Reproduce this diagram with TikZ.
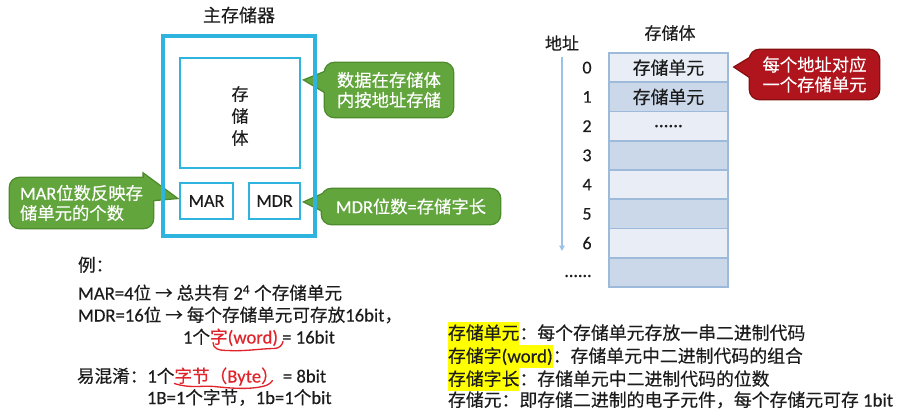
\documentclass[tikz,border=0pt]{standalone}
\usepackage{fontspec}
\setmainfont{Noto Sans CJK SC}[FakeBold=0.35]
\newfontfamily\latinfont{Carlito}[Scale=1.06, FakeBold=0.35]
\newcommand\lt[1]{{\latinfont #1}}
\usetikzlibrary{arrows.meta,calc,backgrounds}
\newcommand\PX{0.75pt}
\definecolor{boxcyan}{HTML}{2FB4DF}
\definecolor{calgreen}{HTML}{62A53D}
\definecolor{calgreenline}{HTML}{4C8A2C}
\definecolor{calred}{HTML}{B0141C}
\definecolor{calredline}{HTML}{85100F}
\definecolor{celllight}{HTML}{E9EEF6}
\definecolor{celldark}{HTML}{CAD8EA}
\definecolor{cellline}{HTML}{9EBADB}
\definecolor{addrarrow}{HTML}{9CC3E5}
\definecolor{txt}{HTML}{1C1C1C}
\definecolor{markred}{HTML}{E0242B}
\definecolor{hly}{HTML}{FFFF00}
% yellow marker behind a term
\newcommand\hlt[1]{{\setlength\fboxsep{0pt}\colorbox{hly}{\rule[-4.2pt]{0pt}{17.3pt}#1}}}
% callout body: rounded box plus pointer, outlined as one shape
% #1 node, #2 tip, #3/#4 points where the pointer meets the box, #5 fill, #6 outline
\newcommand\tagshape[6]{%
  \begin{scope}[on background layer]
    \path[draw=#6, line width=2pt, rounded corners=7pt] (#1.north west) rectangle (#1.south east);
    \path[draw=#6, line width=2pt, line join=miter] ($(#2)!1.4!(#3)$) -- (#2) -- ($(#2)!1.4!(#4)$) -- cycle;
    \path[fill=#5, rounded corners=7pt] (#1.north west) rectangle (#1.south east);
    \path[fill=#5] ($(#2)!1.4!(#3)$) -- (#2) -- ($(#2)!1.4!(#4)$) -- cycle;
  \end{scope}}

\begin{document}
\begin{tikzpicture}[x=0.75pt,y=-0.75pt,
  every node/.style={inner sep=0pt, outer sep=0pt},
  body/.style={font=\fontsize{13.2}{15}\selectfont, text=txt, anchor=base west},
  terms/.style={font=\fontsize{13.4}{15}\selectfont, text=txt, anchor=base west},
  label/.style={font=\fontsize{12.75}{15}\selectfont, text=txt},
  num/.style={font=\latinfont\fontsize{12.75}{15}\selectfont, text=txt},
  cyanbox/.style={draw=boxcyan, line width=2.2pt},
  tag/.style={text=white, font=\fontsize{13}{15}\selectfont},
  cell/.style={draw=cellline, line width=1.2pt, minimum width=119*\PX,
    minimum height=29.25*\PX, font=\fontsize{13.4}{15}\selectfont, text=txt},
  wave/.style={draw=markred, line width=1pt, line cap=round},
]
\begin{scope}[on background layer]
  \fill[white] (0,0) rectangle (924,417);
\end{scope}
\useasboundingbox (0,0) rectangle (924,417);

% ---- main memory block ----
\node[label, font=\fontsize{13.5}{15}\selectfont] (title) at (239,15) {主存储器};
\node[cyanbox, line width=2.5pt, minimum width=152*\PX, minimum height=200*\PX] (mem) at (239,136) {};
\node[cyanbox, minimum width=120*\PX, minimum height=110*\PX] (store) at (240,113) {};
\node[label, align=center, font=\fontsize{12.75}{16.5}\selectfont] (storetext) at (240,116) {存\\储\\体};
\node[cyanbox, num, minimum width=53*\PX, minimum height=36*\PX] (mar) at (206.5,201) {MAR};
\node[cyanbox, num, minimum width=51*\PX, minimum height=36*\PX] (mdr) at (274.5,201) {MDR};

% ---- callouts ----
\node[tag, minimum width=128*\PX, minimum height=54*\PX, align=center] (tagA) at (389,90) {数据在存储体\\内按地址存储};
\coordinate (tipA) at ($(store.east)+(5,-33)$);
\coordinate (tagAa) at ($(tagA.west)+(0,-18)$);
\coordinate (tagAb) at ($(tagA.west)+(0,2)$);
\tagshape{tagA}{tipA}{tagAa}{tagAb}{calgreen}{calgreenline}

\node[tag, minimum width=143*\PX, minimum height=50*\PX, align=left] (tagB) at (81.5,203) {\lt{MAR}位数反映存\\储单元的个数};
\coordinate (tipB) at ($(mar.west)+(-4,-3)$);
\coordinate (tagBa) at ($(tagB.east)+(0,-22)$);
\coordinate (tagBb) at ($(tagB.east)+(0,-3)$);
\tagshape{tagB}{tipB}{tagBa}{tagBb}{calgreen}{calgreenline}

\node[tag, minimum width=178*\PX, minimum height=35*\PX] (tagC) at (411,206.5) {\lt{MDR}位数\lt{=}存储字长};
\coordinate (tipC) at ($(mdr.east)+(5,1)$);
\coordinate (tagCa) at ($(tagC.west)+(0,-12)$);
\coordinate (tagCb) at ($(tagC.west)+(0,4)$);
\tagshape{tagC}{tipC}{tagCa}{tagCb}{calgreen}{calgreenline}

% ---- storage bank with addresses ----
\node[label] (bank) at (670,33) {存储体};
\node[label] (addrlabel) at (562,43) {地址};
\foreach \i/\t/\c in {0/存储单元/celllight, 1/存储单元/celldark, 2/\lt{......}/celllight,
                     3//celldark, 4//celllight, 5//celldark, 6//celllight, 7//celldark}
  \node[cell, fill=\c] (cell\i) at (668.5,{67.625+29.25*\i}) {\t};
\foreach \i in {0,...,6}
  \node[num] (addr\i) at (587,{67.625+29.25*\i}) {\i};
\node[num] (addrmore) at (578,276) {......};
\coordinate (arrowtop) at ($(addrlabel.south)+(0,6)$);
\coordinate (arrowend) at (562,251);
\draw[addrarrow, line width=1.2pt, -{Triangle[length=4pt,width=4pt]}] (arrowtop) -- (arrowend);

\node[tag, minimum width=129*\PX, minimum height=49*\PX, align=center] (tagD) at (814.5,74.5) {每个地址对应\\一个存储单元};
\coordinate (tipD) at ($(cell0.east)+(7,-0.6)$);
\coordinate (tagDa) at ($(tagD.west)+(0,-16.5)$);
\coordinate (tagDb) at ($(tagD.west)+(0,2.5)$);
\tagshape{tagD}{tipD}{tagDa}{tagDb}{calred}{calredline}

% ---- worked example ----
\node[body] (ex) at (78,271.5) {例：};
\node[body] (ex1) at (78,299.5) {\lt{MAR=4}位 → 总共有 \lt{2\textsuperscript{4}} 个存储单元};
\node[body] (ex2) at (78,321.5) {\lt{MDR=16}位 → 每个存储单元可存放\lt{16bit}，};
\node[body] (w1) at (183,343.5) {\lt{1}个};
\node[body, text=markred] (w2) at (w1.base east) {字\lt{(word)}};
\node[body] (w3) at (w2.base east) {\lt{\ = 16bit}};
\draw[wave] ($(w2.base west)+(3,-1)$) .. controls ($(w2.base west)+(3,5)$) and ($(w2.base west)+(8,7)$) ..
  ($(w2.base west)+(18,7)$) .. controls ($(w2.base west)+(35,8)$) and ($(w2.base west)+(52,5)$) ..
  ($(w2.base west)+(64,5)$) .. controls ($(w2.base west)+(69,5)$) and ($(w2.base west)+(72,2)$) ..
  ($(w2.base west)+(73,-2)$);

\node[body] (c1) at (77,382.5) {易混淆：\lt{1}个};
\node[body, text=markred] (c2) at (c1.base east) {字节（\lt{Byte}）};
\node[body] (c3) at (c2.base east) {\lt{\ = 8bit}};
\draw[wave] ($(c2.base west)+(0,1)$) .. controls ($(c2.base west)+(15,6)$) and ($(c2.base west)+(25,3)$) ..
  ($(c2.base west)+(40,4)$) .. controls ($(c2.base west)+(58,6)$) and ($(c2.base west)+(75,7)$) ..
  ($(c2.base west)+(88,4)$) .. controls ($(c2.base west)+(93,3)$) and ($(c2.base west)+(96,1)$) ..
  ($(c2.base west)+(98,-2)$);
\node[body] (c4) at (147,404) {\lt{1B=1}个字节，\lt{1b=1}个\lt{bit}};

% ---- terms ----
\node[terms] (t1) at (448,339.5) {\hlt{存储单元}：每个存储单元存放一串二进制代码};
\node[terms] (t2) at (448,362.5) {\hlt{存储字\lt{(word)}}：存储单元中二进制代码的组合};
\node[terms] (t3) at (448,385.5) {\hlt{存储字长}：存储单元中二进制代码的位数};
\node[terms] (t4) at (448,406.5) {存储元：即存储二进制的电子元件，每个存储元可存 \lt{1bit}};
\end{tikzpicture}
\end{document}
